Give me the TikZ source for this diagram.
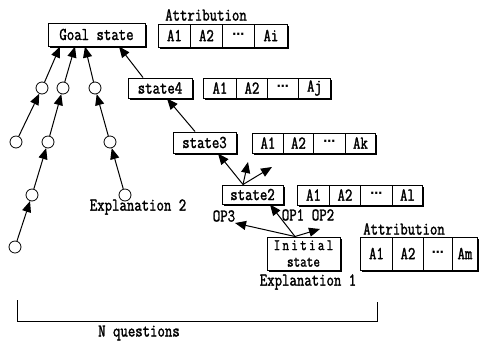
\documentclass[tikz,border=0pt]{standalone}
\usepackage{fontspec}
\usetikzlibrary{arrows.meta,shadows}
\newfontfamily\symfont{DejaVu Sans}
% condensed, heavy typewriter lettering
\newfontfamily\labelfont{Latin Modern Mono}[FakeStretch=0.8, FakeBold=1.6]
\newcommand\lbl[1]{#1}
\newcommand\dotsym{{\symfont\bfseries\fontsize{12}{12}\selectfont\char"22EF}}

\tikzset{
  txt/.style={inner sep=0pt, font={\fontsize{18}{18}\selectfont\labelfont}},
  statebox/.style={txt, draw, line width=1pt, fill=white, inner sep=0pt,
    drop shadow={shadow xshift=1.6pt, shadow yshift=-1.6pt, fill=black, opacity=1}},
  rowbox/.style={draw, line width=1pt, fill=white, inner sep=0pt, anchor=west,
    drop shadow={shadow xshift=1.6pt, shadow yshift=-1.6pt, fill=black, opacity=1}},
  cell/.style={txt, draw, line width=0.9pt, inner sep=0pt, anchor=west},
  dot/.style={draw, circle, line width=0.8pt, minimum size=12pt, inner sep=0pt, fill=white},
  arr/.style={line width=1pt, -{Triangle[length=11pt,width=9pt]}},
}

% attribute row: prefix, y, height, x0..x4, last label
\newcommand\attrrow[9]{%
  \node[rowbox, minimum width={(#8-#4)*1pt}, minimum height=#3] (#1) at (#4,#2) {};
  \node[cell, minimum width={(#5-#4)*1pt}, minimum height=#3] (#1a) at (#4,#2) {\lbl{A1}};
  \node[cell, minimum width={(#6-#5)*1pt}, minimum height=#3] (#1b) at (#5,#2) {\lbl{A2}};
  \node[cell, minimum width={(#7-#6)*1pt}, minimum height=#3] (#1c) at (#6,#2) {\dotsym};
  \node[cell, minimum width={(#8-#7)*1pt}, minimum height=#3] (#1d) at (#7,#2) {\lbl{#9}};
}

\begin{document}
\begin{tikzpicture}[x=1pt,y=-1pt]
\useasboundingbox[fill=white] (0,0) rectangle (486,341);

% states
\node[statebox, minimum width=97pt, minimum height=23pt] (goal) at (96.5,34.5) {\lbl{Goal state}};
\node[statebox, minimum width=64pt, minimum height=20pt] (st4) at (160,88) {\lbl{state4}};
\node[statebox, minimum width=63pt, minimum height=21pt] (st3) at (204.5,142.5) {\lbl{state3}};
\node[statebox, minimum width=61pt, minimum height=19pt] (st2) at (252.5,194.5) {\lbl{state2}};
\node[statebox, minimum width=73pt, minimum height=33pt, align=center,
  font={\fontsize{16}{16.5}\selectfont\labelfont}] (init) at (303.5,253.5)
  {\addfontfeature{LetterSpace=14}Initial\\state};

% attribute rows
\attrrow{ra}{35.5}{23pt}{158}{190}{222}{254}{287}{Ai}
\attrrow{rb}{88}{20pt}{203}{236}{267}{298}{330}{Aj}
\attrrow{rc}{143}{20pt}{252}{283}{313}{345}{375}{Ak}
\attrrow{rd}{195}{20pt}{297}{329}{360}{392}{422}{Al}
\attrrow{re}{253.5}{33pt}{360}{392}{423}{452}{477}{Am}

% labels
\node[txt] (attr1) at (206,15) {\lbl{Attribution}};
\node[txt] (attr2) at (404,229) {\lbl{Attribution}};
\node[txt] (op3) at (224,216) {\lbl{OP3}};
\node[txt] (op1) at (293,215) {\lbl{OP1}};
\node[txt] (op2) at (323,215) {\lbl{OP2}};
\node[txt] (exp1) at (308,282) {\lbl{Explanation 1}};
\node[txt] (exp2) at (138,207) {\lbl{Explanation 2}};
\node[txt] (nq) at (139,333) {\lbl{N questions}};

% question tree on the left
\node[dot] (c1) at (42,88) {};
\node[dot] (c2) at (63,88) {};
\node[dot] (c3) at (95,88) {};
\node[dot] (c4) at (16,142) {};
\node[dot] (c5) at (48,142) {};
\node[dot] (c6) at (110,142) {};
\node[dot] (c7) at (32,195) {};
\node[dot] (c8) at (125,195) {};
\node[dot] (c9) at (15,247) {};

\draw[arr] (c1) -- ([xshift=-36.5pt]goal.south);
\draw[arr] (c2) -- ([xshift=-21.5pt]goal.south);
\draw[arr] (c3) -- ([xshift=-11.5pt]goal.south);
\draw[arr] (c4) -- (c1);
\draw[arr] (c5) -- (c2);
\draw[arr] (c6) -- (c3);
\draw[arr] (c7) -- (c5);
\draw[arr] (c9) -- (c7);
\draw[arr] (c8) -- (c6);

% search chain
\coordinate (up1) at (248,162);
\coordinate (up2) at (272,167);
\coordinate (op3tip) at (235,223);
\coordinate (op2tip) at (320,229);
\draw[arr] ([xshift=-17pt]st4.north) -- ([xshift=22.5pt]goal.south);
\draw[arr] ([xshift=-9.5pt]st3.north) -- ([xshift=7pt]st4.south);
\draw[arr] ([xshift=-9.5pt]st2.north) -- ([xshift=13.5pt]st3.south);
\draw[arr] ([xshift=-9.5pt]st2.north) -- (up1);
\draw[arr] ([xshift=-9.5pt]st2.north) -- (up2);
\draw[arr] ([xshift=-8.5pt]init.north) -- (op3tip);
\draw[arr] ([xshift=-8.5pt]init.north) -- ([xshift=17.5pt]st2.south);
\draw[arr] ([xshift=-8.5pt]init.north) -- (op2tip);

% bracket spanning the questions
\coordinate (bl) at (17,300);
\coordinate (br) at (377,302);
\draw[line width=1pt] (bl) |- (br |- 0,321) -- (br);
\end{tikzpicture}
\end{document}
